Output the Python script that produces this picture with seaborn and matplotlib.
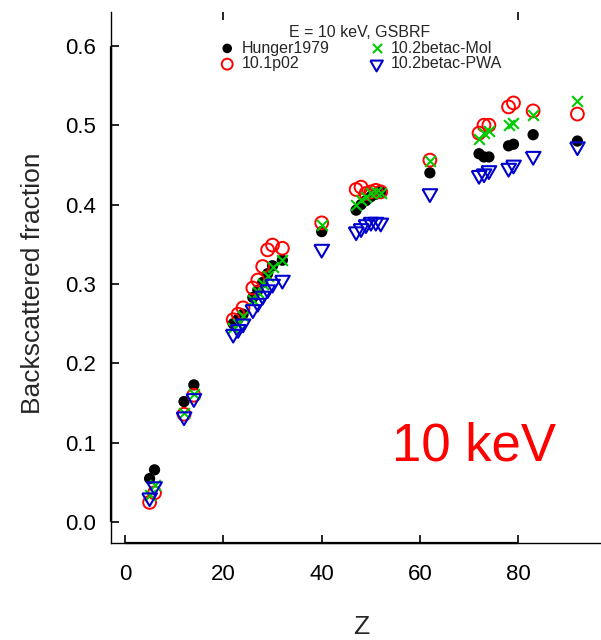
import numpy as np
import pandas as pd
import matplotlib
matplotlib.use("Agg")
import matplotlib.pyplot as plt
import matplotlib.transforms as mtransforms
import seaborn as sns

# Atomic numbers of the targets
Z = [5, 6, 12, 14, 22, 23, 24, 26, 27, 28, 29, 30, 32, 40,
     47, 48, 49, 50, 51, 52, 62, 72, 73, 74, 78, 79, 83, 92]

# Backscattered fraction at 10 keV
hunger1979 = [0.055, 0.066, 0.152, 0.173, 0.250, 0.256, 0.262, 0.283, 0.292,
              0.302, 0.313, 0.323, 0.330, 0.366,
              0.393, 0.400, 0.405, 0.410, 0.413, 0.416, 0.440,
              0.464, 0.460, 0.460, 0.474, 0.476, 0.488, 0.480]
g4_101p02 = [0.025, 0.037, 0.136, 0.160, 0.255, 0.262, 0.270, 0.295, 0.305,
             0.322, 0.343, 0.349, 0.345, 0.377,
             0.419, 0.422, 0.414, 0.416, 0.418, 0.416, 0.456,
             0.490, 0.500, 0.500, 0.523, 0.528, 0.518, 0.514]
g4_102_mol = [0.034, 0.047, 0.137, 0.161, 0.245, 0.250, 0.260, 0.280, 0.290,
              0.300, 0.310, 0.322, 0.330, 0.374,
              0.400, 0.406, 0.410, 0.414, 0.416, 0.415, 0.455,
              0.482, 0.490, 0.493, 0.500, 0.503, 0.513, 0.531]
g4_102_pwa = [0.031, 0.045, 0.133, 0.156, 0.237, 0.243, 0.250, 0.268, 0.276,
              0.285, 0.293, 0.300, 0.305, 0.344,
              0.366, 0.370, 0.375, 0.378, 0.378, 0.377, 0.414,
              0.437, 0.439, 0.443, 0.446, 0.450, 0.461, 0.473]

x_ticks = [0, 20, 40, 60, 80]
top_ticks = [20, 80]
y_ticks = [0.0, 0.1, 0.2, 0.3, 0.4, 0.5, 0.6]
y_tick_labels = ["0.0", "0.1", "0.2", "0.3", "0.4", "0.5", "0.6"]

sns.set_theme(style="white")
plt.rcParams["font.family"] = ["Liberation Sans", "DejaVu Sans"]

W, H = 601, 640
fig = plt.figure(figsize=(W / 100, H / 100), dpi=100)
ax_left, ax_right, ax_top, ax_bottom = 111, 601, 12, 543
ax = fig.add_axes([ax_left / W, 1 - ax_bottom / H,
                   (ax_right - ax_left) / W, (ax_bottom - ax_top) / H])

df = pd.DataFrame({"Z": Z, "Hunger1979": hunger1979, "10.1p02": g4_101p02,
                   "10.2betac-Mol": g4_102_mol, "10.2betac-PWA": g4_102_pwa})

tri_down = [(-1.0, 0.577), (1.0, 0.577), (0.0, -1.155), (-1.0, 0.577)]

sns.scatterplot(data=df, x="Z", y="Hunger1979", ax=ax, marker="o", s=66,
                color="black", edgecolor="none", label="Hunger1979", zorder=3)
sns.scatterplot(data=df, x="Z", y="10.1p02", ax=ax, marker="o", s=85,
                facecolor="none", edgecolor="#FF0000", linewidth=1.4,
                label="10.1p02", zorder=4)
sns.scatterplot(data=df, x="Z", y="10.2betac-Mol", ax=ax, marker="x", s=60,
                color="#00CD00", linewidth=1.5, label="10.2betac-Mol", zorder=5)
sns.scatterplot(data=df, x="Z", y="10.2betac-PWA", ax=ax, marker=tri_down, s=150,
                facecolor="none", edgecolor="#0000CD", linewidth=1.5,
                label="10.2betac-PWA", zorder=6)

ax.set_xlim(-2.85, 96.8)
ax.set_ylim(-0.0261, 0.6425)
ax.set_xticks(x_ticks)
ax.set_yticks(y_ticks)
ax.set_yticklabels(y_tick_labels)

ax.tick_params(axis="both", direction="in", length=6, width=1.2, color="black",
               labelsize=16, labelcolor="black", bottom=True, left=True)
ax.tick_params(axis="y", pad=11)
ax.tick_params(axis="x", pad=15)
ax.grid(False)

# short tick marks along the upper edge
top = ax.secondary_xaxis("top")
top.set_xticks(top_ticks)
top.set_xticklabels([])
top.tick_params(direction="in", length=6, width=1.2, color="black")
top.spines["top"].set_visible(False)

for side in ["left", "bottom"]:
    ax.spines[side].set_linewidth(1.0)
    ax.spines[side].set_color("black")
for side in ["right", "top"]:
    ax.spines[side].set_visible(False)

# heavier axis lines between the first and last tick
bx = mtransforms.blended_transform_factory(ax.transData, ax.transAxes)
by = mtransforms.blended_transform_factory(ax.transAxes, ax.transData)
ax.plot([x_ticks[0], x_ticks[-1]], [0, 0], transform=bx, color="black",
        lw=1.6, clip_on=False, solid_capstyle="butt", zorder=7)
ax.plot([0, 0], [y_ticks[0], y_ticks[-1]], transform=by, color="black",
        lw=1.6, clip_on=False, solid_capstyle="butt", zorder=7)

ax.set_xlabel("Z", fontsize=19)
ax.set_ylabel("Backscattered fraction", fontsize=19)
ax.xaxis.set_label_coords(0.51, -0.136)
ax.yaxis.set_label_coords(-0.135, 0.49)

ax.text(0.74, 0.182, "10 keV", transform=ax.transAxes, color="#FF0000",
        fontsize=38, ha="center", va="center")

leg = ax.legend(ncol=2, title="E = 10 keV, GSBRF", frameon=False,
                loc="upper center", bbox_to_anchor=(0.508, 1.0),
                fontsize=11.5, title_fontsize=11.5, markerscale=0.85,
                handletextpad=0.3, columnspacing=2.35, labelspacing=0.05,
                borderpad=0.3, handlelength=1.2)

fig.savefig("out.png", dpi=100)
